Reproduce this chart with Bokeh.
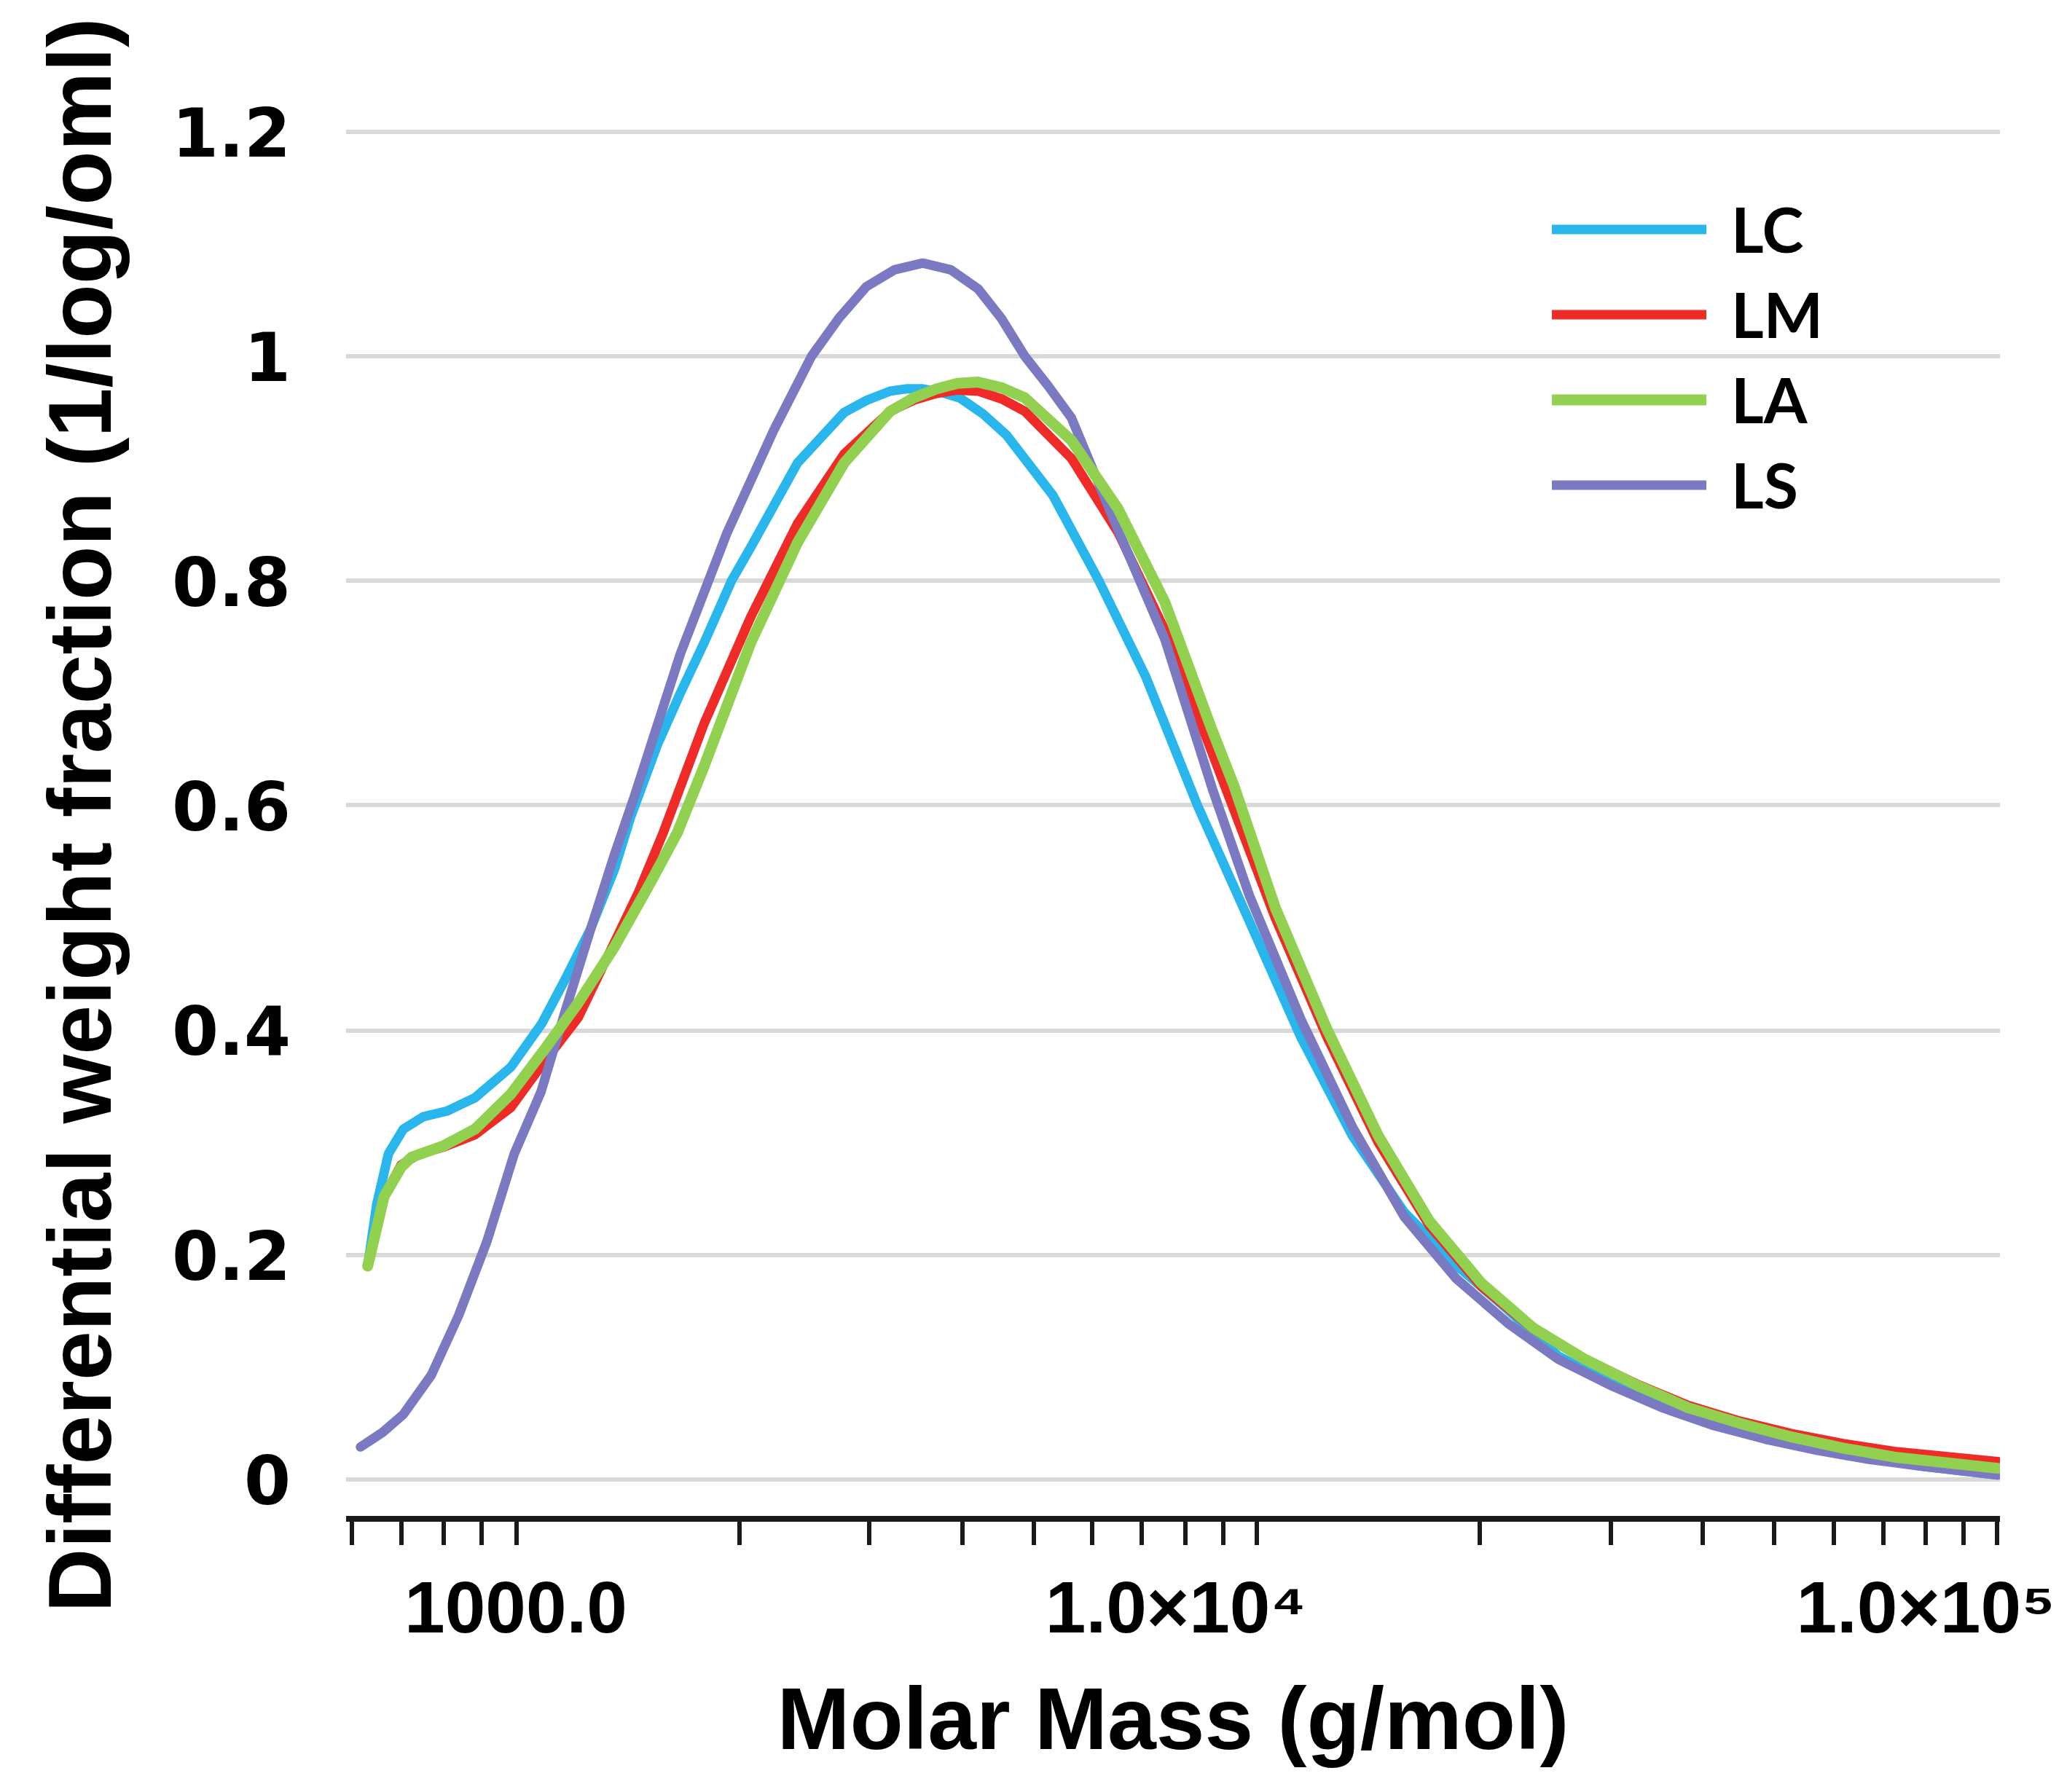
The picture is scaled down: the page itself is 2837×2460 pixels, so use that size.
from bokeh.plotting import figure
from bokeh.models import FixedTicker, Legend, LegendItem, CustomJSTickFormatter
from bokeh.embed import file_html
from bokeh.resources import INLINE

# molar mass (g/mol) and differential weight fraction
lc_mass = [631, 649, 673, 705, 750, 807, 881, 984, 1084, 1167, 1259, 1358, 1429, 1552, 1667,
           1795, 1954, 2075, 2399, 2773, 2979, 3199, 3365, 3540, 3750, 3972, 4266, 4592, 5309,
           6124, 7079, 8318, 9772, 11482, 13459, 15812, 18578, 21827, 25527, 29992, 35237,
           41400, 48529, 57016, 66988, 78705, 100000]
lc_frac = [0.190, 0.245, 0.290, 0.312, 0.323, 0.328, 0.340, 0.367, 0.406, 0.446, 0.489, 0.543,
           0.590, 0.654, 0.700, 0.745, 0.800, 0.830, 0.905, 0.950, 0.961, 0.969, 0.971, 0.971,
           0.968, 0.963, 0.949, 0.930, 0.876, 0.800, 0.715, 0.600, 0.497, 0.393, 0.306, 0.238,
           0.191, 0.151, 0.110, 0.086, 0.066, 0.050, 0.037, 0.027, 0.019, 0.012, 0.004]

lm_mass = [631, 664, 700, 741, 798, 881, 984, 1081, 1213, 1358, 1462, 1581, 1795, 2075, 2399,
           2773, 3199, 3443, 3698, 3945, 4207, 4529, 4864, 5623, 6501, 7516, 8670, 10593, 12417,
           14588, 17100, 20091, 23605, 27733, 32584, 38194, 44875, 52602, 61802, 72444, 100000]
lm_frac = [0.190, 0.252, 0.280, 0.290, 0.296, 0.307, 0.331, 0.368, 0.411, 0.478, 0.522, 0.576,
           0.673, 0.768, 0.851, 0.913, 0.951, 0.961, 0.967, 0.970, 0.969, 0.962, 0.951, 0.909,
           0.843, 0.756, 0.650, 0.500, 0.395, 0.300, 0.226, 0.172, 0.134, 0.107, 0.085, 0.066,
           0.052, 0.041, 0.032, 0.025, 0.016]

la_mass = [631, 664, 700, 723, 798, 881, 984, 1096, 1213, 1358, 1521, 1652, 1795, 2075, 2399,
           2773, 3199, 3443, 3698, 3945, 4207, 4529, 4864, 5623, 6501, 7516, 8670, 9311, 10593,
           12417, 14588, 17100, 20091, 23605, 27733, 32584, 38194, 44875, 52602, 61802, 72444,
           100000]
la_frac = [0.190, 0.252, 0.278, 0.287, 0.297, 0.312, 0.343, 0.384, 0.424, 0.474, 0.532, 0.576,
           0.635, 0.745, 0.834, 0.905, 0.951, 0.963, 0.971, 0.976, 0.977, 0.972, 0.963, 0.925,
           0.864, 0.781, 0.670, 0.618, 0.509, 0.402, 0.306, 0.230, 0.175, 0.135, 0.107, 0.084,
           0.064, 0.050, 0.038, 0.028, 0.020, 0.010]

ls_mass = [617, 661, 705, 769, 837, 914, 995, 1081, 1167, 1259, 1358, 1445, 1667, 1928, 2228,
           2506, 2729, 2972, 3243, 3540, 3864, 4207, 4519, 4864, 5224, 5623, 6501, 7516, 8710,
           9772, 11482, 13459, 15812, 18578, 21827, 25527, 29992, 35237, 41400, 48529, 57016,
           66988, 78705, 100000]
ls_frac = [0.029, 0.042, 0.058, 0.093, 0.146, 0.212, 0.290, 0.345, 0.418, 0.488, 0.556, 0.608,
           0.735, 0.843, 0.934, 1.000, 1.034, 1.062, 1.077, 1.083, 1.077, 1.060, 1.034, 1.000,
           0.974, 0.945, 0.845, 0.748, 0.615, 0.520, 0.409, 0.314, 0.234, 0.179, 0.139, 0.107,
           0.084, 0.064, 0.048, 0.036, 0.026, 0.018, 0.012, 0.004]

y_ticks = [0, 0.2, 0.4, 0.6, 0.8, 1.0, 1.2]
x_major = [1000, 10000, 100000]
x_minor = [600, 700, 800, 900, 2000, 3000, 4000, 5000, 6000, 7000, 8000, 9000,
           20000, 30000, 40000, 50000, 60000, 70000, 80000, 90000]
nb = "\u00a0" * 8
x_labels = ["1000.0", "1.0×10⁴" + nb, "1.0×10⁵"]

# large font sizes break bokeh's text measuring, so the plot is drawn at half
# scale and shown with css zoom 2 (bokeh lays out at the zoomed box, i.e. 1410x1220)
p = figure(width=705, height=610, x_axis_type="log",
           x_range=(590, 100700), y_range=(-0.035, 1.218),
           output_backend="svg", toolbar_location=None,
           min_border_left=237, min_border_right=38, min_border_top=76, min_border_bottom=178)
p.styles = {"zoom": "2"}
p.outline_line_color = None
p.background_fill_color = "white"

# grid
p.xgrid.grid_line_color = None
p.ygrid.ticker = FixedTicker(ticks=y_ticks)
p.ygrid.grid_line_color = "#d9d9d9"
p.ygrid.grid_line_width = 3

# x axis
p.xaxis.ticker = FixedTicker(ticks=x_major, minor_ticks=x_minor)
p.xaxis.formatter = CustomJSTickFormatter(
    args=dict(vals=x_major, labs=x_labels),
    code="const i = vals.indexOf(tick); return i >= 0 ? labs[i] : '';")
p.xaxis.axis_line_color = "#1a1a1a"
p.xaxis.axis_line_width = 4
p.xaxis.major_tick_line_color = "#1a1a1a"
p.xaxis.minor_tick_line_color = "#1a1a1a"
p.xaxis.major_tick_line_width = 3
p.xaxis.minor_tick_line_width = 3
p.xaxis.major_tick_out = 18
p.xaxis.minor_tick_out = 18
p.xaxis.major_tick_in = 0
p.xaxis.minor_tick_in = 0
p.xaxis.major_label_standoff = 15
p.xaxis.major_label_text_font = "Liberation Sans"
p.xaxis.major_label_text_font_style = "bold"
p.xaxis.major_label_text_font_size = "50px"
p.xaxis.major_label_text_color = "black"
p.xaxis.axis_label = "Molar Mass (g/mol)"
p.xaxis.axis_label_standoff = 12
p.xaxis.axis_label_text_font = "Liberation Sans"
p.xaxis.axis_label_text_font_style = "bold"
p.xaxis.axis_label_text_font_size = "60px"
p.xaxis.axis_label_text_color = "black"

# y axis
p.yaxis.ticker = FixedTicker(ticks=y_ticks)
p.yaxis.formatter = CustomJSTickFormatter(code="return tick.toFixed(1).replace(/\\.0$/, '');")
p.yaxis.axis_line_color = None
p.yaxis.major_tick_line_color = None
p.yaxis.major_tick_out = 0
p.yaxis.major_tick_in = 0
p.yaxis.major_label_standoff = 38
p.yaxis.major_label_text_font = "DejaVu Sans"
p.yaxis.major_label_text_font_style = "bold"
p.yaxis.major_label_text_font_size = "46px"
p.yaxis.major_label_text_color = "black"
p.yaxis.axis_label = "Differential weight fraction (1/log/oml)"
p.yaxis.axis_label_standoff = 26
p.yaxis.axis_label_text_font = "Liberation Sans"
p.yaxis.axis_label_text_font_style = "bold"
p.yaxis.axis_label_text_font_size = "61px"
p.yaxis.axis_label_text_color = "black"

# curves
r_lc = p.line(lc_mass, lc_frac, line_color="#29b6ec", line_width=6.5, line_join="round", line_cap="round")
r_lm = p.line(lm_mass, lm_frac, line_color="#ee2b27", line_width=6.5, line_join="round", line_cap="round")
r_ls = p.line(ls_mass, ls_frac, line_color="#7b79c2", line_width=6.5, line_join="round", line_cap="round")
r_la = p.line(la_mass, la_frac, line_color="#92d050", line_width=7.5, line_join="round", line_cap="round")

legend = Legend(items=[LegendItem(label="LC", renderers=[r_lc]),
                       LegendItem(label="LM", renderers=[r_lm]),
                       LegendItem(label="LA", renderers=[r_la]),
                       LegendItem(label="LS", renderers=[r_ls])],
                location=(828, 684))
legend.border_line_color = None
legend.background_fill_alpha = 0
legend.padding = 0
legend.margin = 0
legend.spacing = 7
legend.glyph_width = 106
legend.glyph_height = 50
legend.label_height = 50
legend.label_standoff = 17
legend.label_text_font = "Lato"
legend.label_text_font_style = "bold"
legend.label_text_font_size = "43px"
legend.label_text_color = "black"
p.add_layout(legend)

open("out.html", "w").write(file_html(p, INLINE))
